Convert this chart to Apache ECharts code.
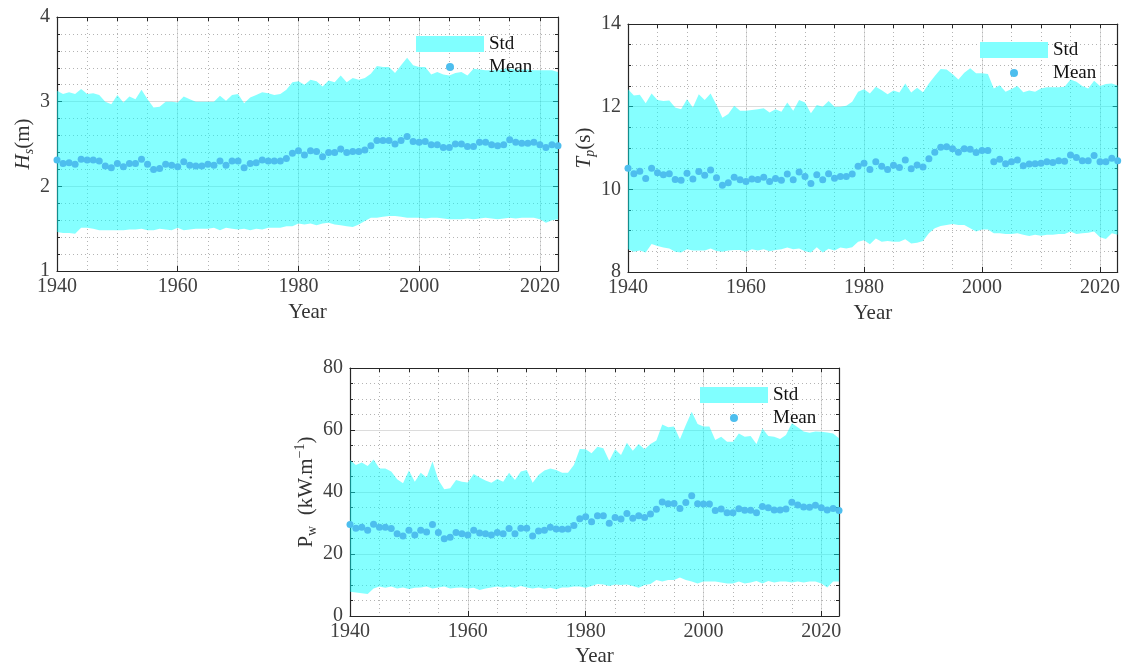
<!DOCTYPE html>
<html>
<head>
<meta charset="utf-8">
<script src="https://cdn.jsdelivr.net/npm/echarts@6/dist/echarts.min.js"></script>
<style>
html,body{margin:0;padding:0;background:#fff;}
#chart{width:1123px;height:672px;}
</style>
</head>
<body>
<div id="chart"></div>
<script>
// ---------------- DATA ----------------
const years = Array.from({length: 84}, (_, i) => 1940 + i);
const xTickLabels = [1940, 1960, 1980, 2000, 2020];

const hsMean = [
  2.31, 2.27, 2.28, 2.26, 2.32, 2.31, 2.31, 2.30, 2.24, 2.22,
  2.27, 2.23, 2.27, 2.27, 2.32, 2.26, 2.20, 2.21, 2.26, 2.25,
  2.23, 2.29, 2.25, 2.24, 2.24, 2.26, 2.25, 2.30, 2.25, 2.30,
  2.30, 2.22, 2.27, 2.28, 2.31, 2.30, 2.30, 2.30, 2.33, 2.39,
  2.42, 2.37, 2.42, 2.41, 2.35, 2.40, 2.40, 2.44, 2.40, 2.41,
  2.41, 2.43, 2.48, 2.54, 2.54, 2.54, 2.50, 2.54, 2.59, 2.53,
  2.52, 2.53, 2.49, 2.49, 2.46, 2.46, 2.50, 2.50, 2.47, 2.47,
  2.52, 2.52, 2.49, 2.48, 2.49, 2.55, 2.52, 2.51, 2.51, 2.52,
  2.49, 2.46, 2.49, 2.48
];
const hsUpper = [
  3.13, 3.09, 3.11, 3.09, 3.15, 3.09, 3.10, 3.08, 3.00, 2.97,
  3.08, 2.99, 3.06, 3.03, 3.14, 3.03, 2.93, 2.94, 3.00, 3.00,
  2.99, 3.06, 3.03, 3.00, 3.00, 3.00, 3.00, 3.07, 3.01, 3.08,
  3.09, 2.98, 3.05, 3.08, 3.11, 3.10, 3.08, 3.09, 3.14, 3.23,
  3.24, 3.20, 3.26, 3.24, 3.18, 3.25, 3.23, 3.31, 3.23, 3.28,
  3.26, 3.28, 3.33, 3.42, 3.41, 3.41, 3.34, 3.43, 3.52, 3.43,
  3.41, 3.41, 3.32, 3.35, 3.32, 3.31, 3.34, 3.35, 3.31, 3.39,
  3.38, 3.37, 3.37, 3.37, 3.39, 3.39, 3.38, 3.38, 3.38, 3.37,
  3.37, 3.37, 3.37, 3.35
];
const hsLower = [
  1.46, 1.45, 1.45, 1.44, 1.51, 1.51, 1.50, 1.48, 1.48, 1.48,
  1.48, 1.48, 1.49, 1.49, 1.50, 1.48, 1.48, 1.50, 1.49, 1.48,
  1.51, 1.48, 1.49, 1.50, 1.50, 1.50, 1.51, 1.48, 1.51, 1.50,
  1.49, 1.50, 1.48, 1.50, 1.49, 1.51, 1.51, 1.51, 1.53, 1.53,
  1.56, 1.55, 1.56, 1.54, 1.56, 1.57, 1.55, 1.54, 1.53, 1.52,
  1.55, 1.59, 1.63, 1.63, 1.64, 1.65, 1.65, 1.64, 1.63, 1.63,
  1.63, 1.62, 1.63, 1.63, 1.62, 1.61, 1.61, 1.61, 1.62, 1.61,
  1.62, 1.63, 1.62, 1.61, 1.62, 1.63, 1.62, 1.63, 1.63, 1.63,
  1.61, 1.57, 1.60, 1.61
];

const tpMean = [
  10.51, 10.38, 10.44, 10.26, 10.51, 10.40, 10.35, 10.38, 10.24, 10.22,
  10.39, 10.25, 10.43, 10.34, 10.47, 10.28, 10.10, 10.16, 10.29, 10.23,
  10.19, 10.25, 10.24, 10.29, 10.19, 10.26, 10.22, 10.37, 10.23, 10.42,
  10.31, 10.14, 10.35, 10.23, 10.38, 10.27, 10.31, 10.31, 10.37, 10.56,
  10.63, 10.48, 10.67, 10.56, 10.48, 10.58, 10.53, 10.71, 10.50, 10.59,
  10.54, 10.74, 10.90, 11.02, 11.03, 10.98, 10.90, 10.98, 10.97, 10.89,
  10.94, 10.94, 10.67, 10.73, 10.62, 10.67, 10.71, 10.57, 10.61, 10.62,
  10.63, 10.67, 10.65, 10.69, 10.68, 10.83, 10.77, 10.69, 10.69, 10.82,
  10.67, 10.67, 10.75, 10.69
];
const tpUpper = [
  12.42, 12.27, 12.29, 12.08, 12.32, 12.16, 12.14, 12.15, 11.98, 11.94,
  12.18, 11.98, 12.30, 12.16, 12.32, 12.04, 11.73, 11.82, 12.02, 11.90,
  11.90, 11.92, 11.94, 11.96, 11.86, 11.94, 11.88, 12.10, 11.90, 12.16,
  12.10, 11.84, 12.04, 12.00, 12.14, 12.00, 12.00, 12.02, 12.12, 12.36,
  12.42, 12.32, 12.48, 12.40, 12.30, 12.39, 12.34, 12.56, 12.34, 12.46,
  12.35, 12.56, 12.74, 12.91, 12.90, 12.79, 12.66, 12.82, 12.93, 12.81,
  12.81, 12.79, 12.44, 12.52, 12.36, 12.43, 12.50, 12.35, 12.39, 12.36,
  12.44, 12.47, 12.47, 12.47, 12.48, 12.66, 12.60, 12.50, 12.44, 12.63,
  12.50, 12.55, 12.56, 12.51
];
const tpLower = [
  8.55, 8.49, 8.52, 8.47, 8.68, 8.63, 8.59, 8.57, 8.49, 8.47,
  8.55, 8.52, 8.52, 8.52, 8.57, 8.51, 8.49, 8.52, 8.53, 8.53,
  8.49, 8.55, 8.52, 8.55, 8.50, 8.53, 8.55, 8.59, 8.55, 8.57,
  8.50, 8.47, 8.60, 8.47, 8.56, 8.52, 8.59, 8.57, 8.60, 8.73,
  8.77, 8.67, 8.81, 8.73, 8.75, 8.73, 8.73, 8.79, 8.69, 8.71,
  8.75, 8.94, 9.06, 9.11, 9.14, 9.16, 9.14, 9.14, 9.06, 8.98,
  9.03, 9.03, 8.94, 8.94, 8.92, 8.92, 8.94, 8.90, 8.87, 8.90,
  8.88, 8.90, 8.90, 8.92, 8.92, 8.98, 8.92, 8.94, 8.95, 8.98,
  8.84, 8.80, 8.94, 8.90
];

const pwMean = [
  29.5, 28.3, 28.6, 27.7, 29.6, 28.6, 28.6, 28.2, 26.5, 25.8,
  27.7, 26.1, 27.7, 27.1, 29.5, 26.9, 24.9, 25.4, 26.9, 26.5,
  26.1, 27.7, 26.8, 26.5, 26.1, 26.9, 26.5, 28.2, 26.5, 28.3,
  28.3, 25.8, 27.4, 27.7, 28.6, 28.1, 28.0, 28.1, 29.2, 31.4,
  32.0, 30.4, 32.3, 32.3, 29.9, 31.8, 31.3, 33.1, 31.5, 32.3,
  31.8, 32.9, 34.4, 36.8, 36.2, 36.3, 34.7, 36.6, 38.8, 36.2,
  36.1, 36.1, 34.0, 34.5, 33.3, 33.3, 34.6, 34.1, 34.1, 33.3,
  35.3, 34.9, 34.2, 34.2, 34.5, 36.7, 35.8, 35.2, 35.1, 35.7,
  34.9, 34.2, 34.7, 34.0
];
const pwUpper = [
  50.3, 48.7, 49.5, 48.4, 50.5, 47.6, 47.6, 46.6, 44.1, 42.8,
  46.9, 43.3, 46.2, 44.7, 49.8, 43.9, 40.9, 41.2, 43.9, 43.3,
  43.1, 45.8, 44.7, 43.7, 43.0, 44.2, 43.3, 46.2, 43.9, 46.6,
  47.1, 43.0, 45.5, 46.9, 47.6, 47.1, 46.2, 46.2, 48.7, 53.9,
  53.8, 52.5, 54.6, 54.1, 50.1, 53.8, 51.9, 55.9, 53.3, 55.5,
  53.8, 55.5, 56.6, 61.8, 60.9, 61.1, 57.0, 61.6, 65.9, 61.9,
  61.1, 61.1, 56.8, 57.8, 56.2, 56.2, 58.9, 57.8, 58.1, 55.5,
  60.5, 58.1, 57.8, 57.1, 58.4, 62.2, 60.9, 59.5, 59.1, 59.5,
  59.4, 59.2, 58.9, 57.3
];
const pwLower = [
  7.8, 7.6, 7.3, 7.1, 8.9, 9.5, 9.1, 9.5, 8.9, 9.2,
  8.7, 9.1, 9.2, 9.5, 8.9, 9.2, 9.5, 8.9, 9.1, 9.2,
  8.9, 9.1, 8.4, 8.9, 9.2, 9.5, 9.2, 9.5, 9.1, 9.7,
  9.2, 8.9, 9.2, 8.8, 9.1, 8.6, 9.2, 9.2, 9.5, 9.5,
  9.1, 9.7, 10.3, 10.2, 9.7, 10.2, 10.0, 10.2, 9.7, 9.1,
  10.0, 10.3, 11.6, 11.1, 11.6, 11.6, 12.4, 11.6, 11.1, 10.5,
  11.1, 11.1, 11.1, 10.8, 10.5, 10.5, 11.1, 10.5, 10.8, 11.3,
  10.5, 11.3, 10.8, 11.1, 11.1, 10.8, 11.1, 10.8, 11.1, 11.1,
  10.5, 9.2, 11.1, 11.1
];

// ---------------- STYLE ----------------
const FONT = 'Liberation Serif';
const AXC = '#262626';
const LBL = '#404040';
const FILL = 'rgba(0,255,255,0.48)';
const DOT = '#4dbeee';
// legend icon: 8px circle centred in a 68x16 box (move-to points set the box)
const MEAN_ICON = 'path://M0,0 M68,16 M38,8 A4,4 0 1 1 30,8 A4,4 0 1 1 38,8 Z';

const panels = [
  {grid:{left:57, top:17, width:501, height:254}, yMin:1, yMax:4, yInt:1, yMinor:5,
   yName:'{it|H}{subi|s}{n|(m)}', yGap:21, xGap:31,
   lower:hsLower, upper:hsUpper, mean:hsMean, legLeft:416, legTop:34},
  {grid:{left:628, top:24, width:491, height:248}, yMin:8, yMax:14, yInt:2, yMinor:4,
   yName:'{it|T}{subi|p}{n|(s)}', yGap:28, xGap:31,
   lower:tpLower, upper:tpUpper, mean:tpMean, legLeft:980, legTop:40},
  {grid:{left:350, top:368, width:489, height:248}, yMin:0, yMax:80, yInt:20, yMinor:4,
   yName:'{n|P}{sub|w}{n|  (kW.m}{sup|−1}{n|)}', yGap:29, xGap:30,
   lower:pwLower, upper:pwUpper, mean:pwMean, legLeft:700, legTop:385}
];

const nameRich = {
  n:{fontFamily:FONT, fontSize:21, color:'#333', lineHeight:26},
  it:{fontFamily:FONT, fontSize:21, fontStyle:'italic', color:'#333', lineHeight:26},
  subi:{fontFamily:FONT, fontSize:14, fontStyle:'italic', color:'#333', lineHeight:14, verticalAlign:'bottom'},
  sub:{fontFamily:FONT, fontSize:14, color:'#333', lineHeight:14, verticalAlign:'bottom'},
  sup:{fontFamily:FONT, fontSize:14, color:'#333', lineHeight:14, verticalAlign:'top'}
};

const option = {
  animation:false,
  backgroundColor:'#fff',
  grid:[], xAxis:[], yAxis:[], series:[], legend:[]
};

panels.forEach((p, i) => {
  option.grid.push(Object.assign({containLabel:false}, p.grid));
  option.xAxis.push({
    type:'value', gridIndex:i, position:'bottom', min:1940, max:2023, interval:20,
    axisLine:{show:true, onZero:false, lineStyle:{color:AXC, width:1.2}},
    axisTick:{show:true, inside:true, length:5, lineStyle:{color:AXC, width:1}},
    axisLabel:{show:true, showMaxLabel:false, color:LBL, fontFamily:FONT, fontSize:20, margin:6,
      formatter:v => xTickLabels.indexOf(v) >= 0 ? String(v) : ''},
    splitLine:{show:true, lineStyle:{color:'#dcdcdc', width:1}},
    name:'Year', nameLocation:'middle', nameGap:p.xGap,
    nameTextStyle:{fontFamily:FONT, fontSize:21, color:'#333'}
  });
  option.xAxis.push({
    type:'value', gridIndex:i, position:'top', min:1940, max:2023, interval:5,
    axisLine:{show:true, onZero:false, lineStyle:{color:AXC, width:1.2}},
    axisTick:{show:true, inside:true, length:4, lineStyle:{color:AXC, width:1}},
    axisLabel:{show:false},
    splitLine:{show:true, lineStyle:{color:'#b4b4b4', width:1, type:[1,3]}}
  });
  option.yAxis.push({
    type:'value', gridIndex:i, position:'left', min:p.yMin, max:p.yMax, interval:p.yInt,
    axisLine:{show:true, onZero:false, lineStyle:{color:AXC, width:1.2}},
    axisTick:{show:true, inside:true, length:5, lineStyle:{color:AXC, width:1}},
    minorTick:{show:true, splitNumber:p.yMinor, length:3, lineStyle:{color:AXC, width:1}},
    axisLabel:{color:LBL, fontFamily:FONT, fontSize:20, margin:7},
    splitLine:{show:true, lineStyle:{color:'#dcdcdc', width:1}},
    minorSplitLine:{show:true, lineStyle:{color:'#b4b4b4', width:1, type:[1,3]}},
    name:p.yName, nameLocation:'middle', nameGap:p.yGap,
    nameTextStyle:{rich:nameRich}
  });
  option.yAxis.push({
    type:'value', gridIndex:i, position:'right', min:p.yMin, max:p.yMax, interval:p.yInt,
    axisLine:{show:true, onZero:false, lineStyle:{color:AXC, width:1.2}},
    axisTick:{show:true, inside:true, length:5, lineStyle:{color:AXC, width:1}},
    minorTick:{show:true, splitNumber:p.yMinor, length:3, lineStyle:{color:AXC, width:1}},
    axisLabel:{show:false}, splitLine:{show:false}
  });
  const xi = i * 2, yi = i * 2;
  const lower = p.lower, upper = p.upper;
  option.series.push({
    type:'custom', name:'Std', xAxisIndex:xi, yAxisIndex:yi, clip:true, silent:true, z:2,
    data: years.map((y, k) => [y, lower[k], upper[k]]),
    encode:{x:0, y:[1, 2]},
    itemStyle:{color:'#80ffff'},
    renderItem: (params, api) => {
      if (params.dataIndex !== 0) return null;
      const pts = [];
      for (let k = 0; k < years.length; k++) pts.push(api.coord([years[k], upper[k]]));
      for (let k = years.length - 1; k >= 0; k--) pts.push(api.coord([years[k], lower[k]]));
      return {type:'polygon', shape:{points:pts}, style:{fill:FILL, stroke:null}};
    }
  });
  option.series.push({
    type:'scatter', name:'Mean', xAxisIndex:xi, yAxisIndex:yi,
    data: years.map((y, k) => [y, p.mean[k]]),
    symbol:'circle', symbolSize:7, itemStyle:{color:DOT, opacity:1}, z:5
  });
  option.legend.push({
    left:p.legLeft, top:p.legTop, orient:'vertical', padding:0, itemGap:3,
    itemWidth:68, itemHeight:16, selectedMode:false,
    data:[
      {name:'Std', icon:'rect', itemStyle:{color:'#80ffff'}},
      {name:'Mean', icon:MEAN_ICON, itemStyle:{color:DOT}}
    ],
    textStyle:{fontFamily:FONT, fontSize:19, color:'#111', lineHeight:20}
  });
});

const chart = echarts.init(document.getElementById('chart'), null, {renderer:'canvas'});
chart.setOption(option);
</script>
</body>
</html>
